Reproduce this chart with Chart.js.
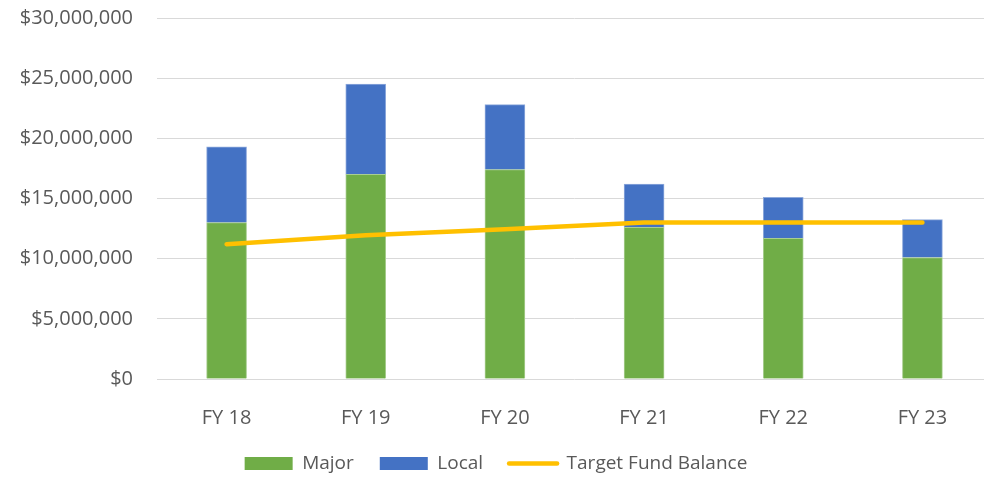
<!DOCTYPE html>
<html>
<head>
<meta charset="utf-8">
<script src="https://cdn.jsdelivr.net/npm/chart.js@4/dist/chart.umd.min.js"></script>
<style>
  html, body { margin: 0; padding: 0; background: #fff; overflow: hidden; }
  #wrap { width: 992px; height: 478px; }
</style>
</head>
<body>
<div id="wrap"><canvas id="ch" width="992" height="478"></canvas></div>
<script>
// Major / Local funding per fiscal year, with target fund balance line
const YEARS = ["FY 18", "FY 19", "FY 20", "FY 21", "FY 22", "FY 23"];
const MAJOR = [13000000, 17000000, 17400000, 12600000, 11700000, 10100000];
const LOCAL = [6300000, 7500000, 5400000, 3600000, 3400000, 3150000];
const TARGET = [11200000, 11950000, 12450000, 13000000, 13000000, 13000000];
const Y_MAX = 30000000, Y_STEP = 5000000;

const FONT = "'Open Sans', 'Liberation Sans', sans-serif";
const TXT = "#595959";

new Chart(document.getElementById("ch"), {
  data: {
    labels: YEARS,
    datasets: [
      { type: "bar", label: "Major", data: MAJOR, backgroundColor: "#70AD47", borderColor: "#A9CE91", borderWidth: 1, barThickness: 40, stack: "fund", order: 1 },
      { type: "bar", label: "Local", data: LOCAL, backgroundColor: "#4472C4", borderColor: "#8FAADC", borderWidth: 1, barThickness: 40, stack: "fund", order: 1 },
      { type: "line", label: "Target Fund Balance", data: TARGET, borderColor: "#FFC000", backgroundColor: "#FFC000", borderWidth: 4.5, borderCapStyle: "round", pointRadius: 0, tension: 0, stack: "line", order: 0 }
    ]
  },
  options: {
    responsive: false, animation: false,
    layout: { padding: { top: 18, right: 0, bottom: -5, left: 0 } },
    plugins: {
      tooltip: { enabled: false },
      legend: {
        position: "bottom",
        labels: {
          color: TXT, font: { family: FONT, size: 19 },
          usePointStyle: true, pointStyleWidth: 48, boxHeight: 13, padding: 26,
          sort: (a, b) => a.datasetIndex - b.datasetIndex,
          generateLabels: (chart) => Chart.defaults.plugins.legend.labels.generateLabels(chart).map((l) => {
            if (l.datasetIndex === 2) { l.pointStyle = "line"; l.lineWidth = 4.5; l.lineCap = "round"; }
            else { l.pointStyle = "rect"; l.lineWidth = 0; }
            return l;
          })
        }
      }
    },
    scales: {
      x: {
        stacked: true,
        afterFit: (s) => { s.height = 49; },
        grid: { display: false }, border: { display: false },
        ticks: { color: TXT, font: { family: FONT, size: 20 }, padding: 19 }
      },
      y: {
        stacked: true, min: 0, max: Y_MAX,
        afterFit: (s) => { s.width = 157; s.paddingTop = 0; s.paddingBottom = 0; },
        grid: { color: "#D9D9D9", drawTicks: false }, border: { display: false },
        ticks: { stepSize: Y_STEP, color: TXT, font: { family: FONT, size: 20 }, padding: 24,
          callback: (v) => "$" + Number(v).toLocaleString("en-US") }
      }
    }
  }
});
</script>
</body>
</html>
